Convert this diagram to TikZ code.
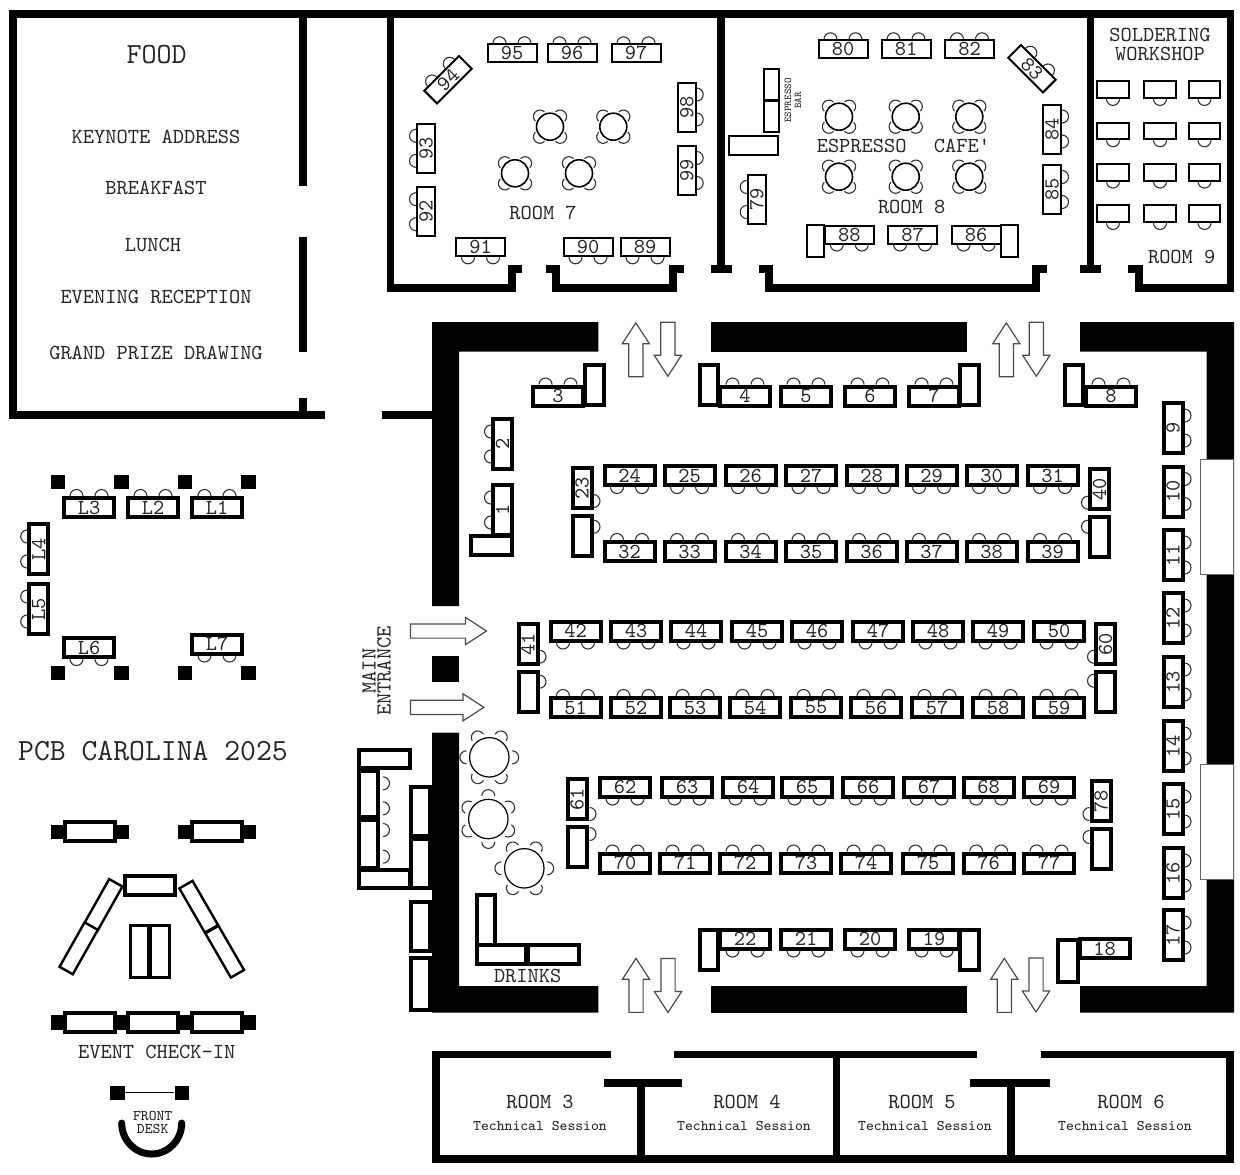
\documentclass[tikz,border=0pt]{standalone}
\usetikzlibrary{shapes.arrows}
\newcommand{\fntnorm}{\ttfamily\fontsize{10.7}{12}\selectfont}
\newcommand{\fntsmall}{\ttfamily\fontsize{7.4}{6.6}\selectfont}
\newcommand{\fnttiny}{\ttfamily\fontsize{5.2}{5}\selectfont}
\newcommand{\seat}[3][3.25pt]{\draw[chair] (#2) ++(#3-90:#1) arc[start angle=#3-90,delta angle=180,radius=#1];}
\newcommand{\seats}[2]{\foreach \d in {-6.25,6.25} {\seat{[shift={(#2+90:\d pt)}]#1}{#2}}}
\tikzset{
  wall/.style={line width=3.85pt},
  chair/.style={line width=.55pt,draw=black!80},
  lbl/.style={inner sep=0pt,text=black!85,font=\fntnorm},
  tblthick/.style={draw,line width=2pt,fill=white,inner sep=0pt,minimum width=25pt,minimum height=9.5pt,text=black!85,font=\fntnorm},
  tblthin/.style={draw,line width=1pt,fill=white,inner sep=0pt,minimum width=24.5pt,minimum height=9pt,text=black!85,font=\fntnorm},
  boxthick/.style 2 args={draw,line width=2pt,fill=white,inner sep=0pt,minimum width=#1pt,minimum height=#2pt},
  boxthin/.style 2 args={draw,line width=1pt,fill=white,inner sep=0pt,minimum width=#1pt,minimum height=#2pt},
  pillar/.style={fill=black,inner sep=0pt,minimum size=7.2pt},
  rndsmall/.style={circle,draw,line width=.8pt,inner sep=0pt,minimum size=13.5pt},
  rndbig/.style={circle,draw,line width=.6pt,inner sep=0pt,minimum size=19.7pt},
  blockarrow/.style={single arrow,draw=black!70,line width=.6pt,fill=white,inner xsep=0pt,inner ysep=3.25pt,
    single arrow head extend=3.25pt,single arrow tip angle=66,minimum height=27pt},
}
\begin{document}
\begin{tikzpicture}[x=.5pt,y=-.5pt]
  \useasboundingbox (0,0) rectangle (1240,1174);
  \fill[white] (0,0) rectangle (1240,1174);
%%
  % Walls: upper rooms
  \draw[wall] (324.7,415) -- (13.3,415) -- (13.3,14) -- (1230.5,14) -- (1230.5,288.3) -- (1138.7,288.3) -- (1138.7,265);
  \draw[wall] (1128.3,268.8) -- (1142.3,268.8);
  \draw[wall] (381.7,415) -- (432,415);
  \draw[wall] (303,14) -- (303,186);
  \draw[wall] (303,236.7) -- (303,351.7);
  \draw[wall] (303,398.3) -- (303,415);
  \draw[wall] (390.5,14) -- (390.5,288.3) -- (512,288.3) -- (512,265);
  \draw[wall] (508.3,268.8) -- (522.3,268.8);
  \draw[wall] (545.7,268.8) -- (560,268.8);
  \draw[wall] (556,265) -- (556,288.3) -- (673.3,288.3) -- (673.3,265);
  \draw[wall] (669.3,268.8) -- (684,268.8);
  \draw[wall] (721,14) -- (721,268.8);
  \draw[wall] (710.7,268.8) -- (731.7,268.8);
  \draw[wall] (759,268.8) -- (772.7,268.8);
  \draw[wall] (769,265) -- (769,288.3) -- (1036.3,288.3) -- (1036.3,265);
  \draw[wall] (1032.7,268.8) -- (1046.7,268.8);
  \draw[wall] (1090.5,14) -- (1090.5,268.8);
  \draw[wall] (1080,268.8) -- (1101,268.8);
  % Walls: lower rooms
  \draw[wall] (611.4,1054.5) -- (435.7,1054.5) -- (435.7,1159) -- (1230.3,1159) -- (1230.3,1054.5) -- (1041.3,1054.5);
  \draw[wall] (673.7,1054.5) -- (977,1054.5);
  \draw[wall] (641,1083) -- (641,1159);
  \draw[wall] (604,1083) -- (681.5,1083);
  \draw[wall] (836.5,1054.5) -- (836.5,1159);
  \draw[wall] (1011,1083) -- (1011,1159);
  \draw[wall] (969.7,1083) -- (1049.7,1083);
  % Walls: main hall
  \fill (432,606) -- (432,322) -- (598.3,322) -- (598.3,351.5) -- (459,351.5) -- (459,606) -- cycle;
  \fill (711,322) rectangle (967,351.5);
  \fill (1080,322) -- (1234,322) -- (1234,1012.7) -- (1080,1012.7) -- (1080,986) -- (1206.7,986) -- (1206.7,351.5) -- (1080,351.5) -- cycle;
  \fill (432,656) rectangle (459,682.3);
  \fill (432,732.7) -- (459,732.7) -- (459,986) -- (598.3,986) -- (598.3,1012.7) -- (432,1012.7) -- cycle;
  \fill (711,986) rectangle (967,1012.7);
  \filldraw[fill=white,draw=black!60,line width=.5pt] (1200.7,459.3) rectangle (1233.3,574.3);
  \filldraw[fill=white,draw=black!60,line width=.5pt] (1200.7,764) rectangle (1233.3,879);
  % Arrows
  \node[blockarrow,rotate=90] (aup1) at (635.8,355.3) {};
  \node[blockarrow,rotate=-90] (adn1) at (667.8,343.8) {};
  \node[blockarrow,rotate=90] (aup2) at (1006.3,355.3) {};
  \node[blockarrow,rotate=-90] (adn2) at (1036.3,343.8) {};
  \node[blockarrow,rotate=90] (aup3) at (636,990.8) {};
  \node[blockarrow,rotate=-90] (adn3) at (668,980) {};
  \node[blockarrow,rotate=90] (aup4) at (1004.3,990.8) {};
  \node[blockarrow,rotate=-90] (adn4) at (1036,979.5) {};
  \node[blockarrow,minimum height=38pt] (ain1) at (443,631) {};
  \node[blockarrow,minimum height=36.7pt] (ain2) at (441.7,707.3) {};
  % Room: FOOD
  \node[lbl,font=\ttfamily\fontsize{14.6}{16}\selectfont] (food) at (156.7,54.3) {FOOD};
  \node[lbl] (keynote) at (156,137.3) {KEYNOTE ADDRESS};
  \node[lbl] (breakfast) at (156,188) {BREAKFAST};
  \node[lbl] (lunch) at (153,245) {LUNCH};
  \node[lbl] (evening) at (156,296.5) {EVENING RECEPTION};
  \node[lbl] (grand) at (156,353) {GRAND PRIZE DRAWING};
  % Room: 7
  \foreach \n/\x in {95/512,96/572,97/636} {
    \node[tblthin] (t\n) at (\x,53.3) {\n};
    \seats{t\n.north}{90}
  }
  \foreach \n/\y in {98/107,99/170.5} {
    \node[tblthin,rotate=90] (t\n) at (686.7,\y) {\n};
    \seats{t\n.south}{0}
  }
  \foreach \n/\y in {93/148.3,92/211.7} {
    \node[tblthin,rotate=90] (t\n) at (426,\y) {\n};
    \seats{t\n.north}{180}
  }
  \foreach \n/\x in {91/480.5,90/588,89/645} {
    \node[tblthin] (t\n) at (\x,247.3) {\n};
    \seats{t\n.south}{270}
  }
  \node[tblthin,rotate=45] (t94) at (448,79.7) {94};
  \seats{t94.north}{135}
  \foreach \n/\x/\y in {a/550/126.7,b/613.3/126.7,c/515/173.3,d/579/173.3,e/839/116.7,f/905.7/116.7,g/969.3/116.7,h/839/176.7,i/905.7/176.7,j/969.3/176.7} {
    \node[rndsmall] (r\n) at (\x,\y) {};
    \foreach \a in {45,135,225,315} {\seat{r\n.\a}{\a}}
  }
  \node[lbl] (room7) at (543,213.3) {ROOM 7};
  % Room: 8
  \foreach \n/\x in {80/843,81/906,82/969.5} {
    \node[tblthin] (t\n) at (\x,49.3) {\n};
    \seats{t\n.north}{90}
  }
  \node[tblthin,rotate=-45] (t83) at (1032,68.7) {83};
  \seats{t83.north}{45}
  \foreach \n/\y in {84/129,85/189.5} {
    \node[tblthin,rotate=90] (t\n) at (1052,\y) {\n};
    \seats{t\n.south}{0}
  }
  \node[tblthin,rotate=90] (t79) at (756.7,199.5) {79};
  \seats{t79.north}{180}
  \foreach \n/\x in {88/849.3,87/912.5,86/976} {
    \node[tblthin] (t\n) at (\x,234.5) {\n};
    \seats{t\n.south}{270}
  }
  \node[boxthin={8.3}{15.8}] (s88) at (815.5,241) {};
  \node[boxthin={8.3}{15.8}] (s86) at (1009.5,241) {};
  \node[boxthin={7.4}{15.4}] (bar1) at (771.2,84.3) {};
  \node[boxthin={7.4}{15.4}] (bar2) at (771.2,116.7) {};
  \node[boxthin={24.9}{9.6}] (bar3) at (753.5,145.2) {};
  \node[lbl,font=\fnttiny,rotate=90,align=center] (barlbl) at (793,100.5) {ESPRESSO\\BAR};
  \node[lbl] (espresso) at (861.7,146) {ESPRESSO};
  \node[lbl] (cafe) at (962,146) {CAFE'};
  \node[lbl] (room8) at (911.7,207) {ROOM 8};
  % Room: 9
  \node[lbl,align=center] (solder) at (1160,44.7) {SOLDERING\\[-2.4pt]WORKSHOP};
  \foreach \x [count=\i] in {1113,1160,1204.5} {
    \foreach \y [count=\j] in {89.7,131,172.3,213.7} {
      \node[boxthin={15.75}{8.25}] (d\i\j) at (\x,\y) {};
      \seat{d\i\j.south}{270}
    }
  }
  \node[lbl] (room9) at (1181.7,257) {ROOM 9};
  % Hall: perimeter
  \node[tblthick,rotate=90] (t1) at (502.5,510) {1};
  \seats{t1.north}{180}
  \node[boxthick={20.5}{9.2}] (s1) at (491.5,545.5) {};
  \node[tblthick,rotate=90] (t2) at (502.5,444) {2};
  \seats{t2.north}{180}
  \node[tblthick] (t3) at (558,396) {3};
  \seats{t3.north}{90}
  \node[boxthick={9.2}{20.3}] (s3) at (594.5,385) {};
  \foreach \n/\x in {4/745,5/806,6/870,7/934,8/1111} {
    \node[tblthick] (t\n) at (\x,396) {\n};
    \seats{t\n.north}{90}
  }
  \node[boxthick={9.2}{20.3}] (s4) at (709,385) {};
  \node[boxthick={9.2}{20.3}] (s7) at (969.5,385) {};
  \node[boxthick={9.2}{20.3}] (s8) at (1074,385) {};
  \foreach \n/\y in {9/428,10/491.5,11/555,12/618,13/682,14/746,15/809,16/873,17/935} {
    \node[tblthick,rotate=90] (t\n) at (1173,\y) {\n};
    \seats{t\n.south}{0}
  }
  \node[tblthick] (t18) at (1104.5,948.7) {18};
  \node[boxthick={10}{21}] (s18) at (1068,960.5) {};
  \foreach \n/\x in {19/934,20/870,21/806,22/745} {
    \node[tblthick] (t\n) at (\x,939) {\n};
    \seats{t\n.south}{270}
  }
  \node[boxthick={9.2}{20.3}] (s19) at (969.5,950) {};
  \node[boxthick={9.2}{20.3}] (s22) at (709,950) {};
  % Hall: rows
  \foreach \n/\x in {24/629.5,25/689.5,26/750.5,27/811,28/871.5,29/931.5,30/991.5,31/1052.5} {
    \node[tblthick] (t\n) at (\x,475.5) {\n};
    \seats{t\n.south}{270}
  }
  \foreach \n/\x in {32/629.5,33/689.5,34/750.5,35/811,36/871.5,37/931.5,38/991.5,39/1052.5} {
    \node[tblthick] (t\n) at (\x,551.5) {\n};
    \seats{t\n.north}{90}
  }
  \foreach \n/\x in {42/575.5,43/636,44/696,45/757,46/817,47/878,48/938,49/998,50/1059} {
    \node[tblthick] (t\n) at (\x,631) {\n};
    \seats{t\n.south}{270}
  }
  \foreach \n/\x in {51/575.5,52/636,53/695,54/755,55/816,56/876,57/937,58/998,59/1059} {
    \node[tblthick] (t\n) at (\x,707.5) {\n};
    \seats{t\n.north}{90}
  }
  \foreach \n/\x in {62/625,63/687,64/748,65/807,66/868,67/929,68/988.7,69/1049} {
    \node[tblthick] (t\n) at (\x,787) {\n};
    \seats{t\n.south}{270}
  }
  \foreach \n/\x in {70/625,71/685,72/745,73/806,74/866,75/928,76/988.7,77/1049} {
    \node[tblthick] (t\n) at (\x,863) {\n};
    \seats{t\n.north}{90}
  }
  % Hall: row ends
  \foreach \n/\x/\y in {23/582/488,40/1099.5/489,41/528/644,60/1105.5/644,61/577/799,78/1101/801} {
    \node[tblthick,rotate=90,minimum width=19.7pt] (t\n) at (\x,\y) {\n};
    \node[tblthick,rotate=90,minimum width=19.7pt] (e\n) at (\x,\y+48) {};
  }
  \seat{593.5,501}{0}
  \seat{593.5,526.7}{0}
  \seat{1088,502.7}{180}
  \seat{1088,526.7}{180}
  \seat{539.5,656.7}{0}
  \seat{539.5,681.7}{0}
  \seat{1094,656.7}{180}
  \seat{1094,680.7}{180}
  \seat{589.5,814}{0}
  \seat{589.5,834}{0}
  \seat{1089.5,814}{180}
  \seat{1089.5,837}{180}
  % Lounge
  \node[boxthick={25.5}{9.2}] (lng1) at (384.8,758.8) {};
  \node[boxthick={9.35}{23}] (lng2) at (368.7,794) {};
  \node[boxthick={9.35}{24}] (lng3) at (368.7,844) {};
  \node[boxthick={25.5}{9.2}] (lng4) at (384.8,878.7) {};
  \node[boxthick={9.35}{24.6}] (lng5) at (420.3,811.7) {};
  \node[boxthick={9.35}{24.6}] (lng6) at (420.3,863.3) {};
  \node[boxthick={9.35}{24.6}] (lng7) at (420.3,926.7) {};
  \node[boxthick={9.35}{25.8}] (lng8) at (420.3,983.8) {};
  \foreach \y in {783.3,808.3,830,856.7} {\seat{383,\y}{0}}
  \node[rndbig] (b1) at (489.3,757.3) {};
  \node[rndbig] (b2) at (488.3,819) {};
  \node[rndbig] (b3) at (524.3,868.3) {};
  \foreach \a in {0,60,120,180,240,300} {
    \seat{[shift={(\a:1.3pt)}]b1.\a}{\a}
    \seat{[shift={(\a:1.3pt)}]b3.\a}{\a}
  }
  \foreach \a in {30,90,150,210,270,330} {\seat{[shift={(\a:1.3pt)}]b2.\a}{\a}}
  % Drinks
  \node[boxthick={9.15}{24.7}] (drk1) at (486.2,920) {};
  \node[boxthick={24.6}{9.35}] (drk2) at (501.7,954.7) {};
  \node[boxthick={25.3}{9.35}] (drk3) at (553.3,954.7) {};
  \node[lbl] (drinks) at (527.7,975.7) {DRINKS};
  \node[lbl,rotate=90,align=center] (entrance) at (376.5,671) {MAIN\\[-4.5pt]ENTRANCE};
  % Lobby: L tables
  \foreach \x/\n in {58/a,121.3/b,184.7/c,248.5/d} {
    \node[pillar] (pt\n) at (\x,481.7) {};
    \node[pillar] (pb\n) at (\x,672.8) {};
  }
  \foreach \n/\x in {L3/89,L2/153,L1/217} {
    \node[tblthick] (t\n) at (\x,507.5) {\n};
    \seats{t\n.north}{90}
  }
  \foreach \n/\y in {L4/549,L5/609} {
    \node[tblthick,rotate=90] (t\n) at (38.7,\y) {\n};
    \seats{t\n.north}{180}
  }
  \node[tblthick] (tL6) at (89,647.5) {L6};
  \seats{tL6.south}{270}
  \node[tblthick] (tL7) at (217,644) {L7};
  \seats{tL7.south}{270}
  \node[lbl,font=\ttfamily\fontsize{15.4}{18}\selectfont] (title) at (153,751) {PCB CAROLINA 2025};
  % Lobby: check-in
  \foreach \x/\n in {58/a,121.3/b,184.7/c,248.5/d} {
    \node[pillar] (pc\n) at (\x,831.7) {};
    \node[pillar] (pd\n) at (\x,1022.5) {};
  }
  \node[tblthick] (c1) at (89.5,831.7) {};
  \node[tblthick] (c2) at (216.7,831.7) {};
  \node[tblthick] (c3) at (150,885) {};
  \foreach \n/\x/\y/\r in {c4/103.3/905/60.6,c5/78.7/948.3/60.6,c6/198.7/906.7/-60,c7/224.7/951.7/-60} {
    \node[boxthin={25.5}{7.6},rotate=\r,line width=1.2pt] (\n) at (\x,\y) {};
  }
  \node[boxthick={9.3}{26},line width=1.5pt] (c8) at (139.5,951.7) {};
  \node[boxthick={9.3}{26},line width=1.5pt] (c9) at (160,951.7) {};
  \node[tblthick] (c10) at (89.5,1022) {};
  \node[tblthick] (c11) at (153,1022) {};
  \node[tblthick] (c12) at (216.7,1022) {};
  \node[lbl] (checkin) at (156.7,1051.7) {EVENT CHECK-IN};
  % Lobby: front desk
  \node[pillar] (fd1) at (117.5,1092.7) {};
  \node[pillar] (fd2) at (182,1092.7) {};
  \draw[line width=.6pt] (fd1) -- (fd2);
  \node[lbl,font=\fntsmall,align=center] (fdesk) at (152.7,1122.5) {FRONT\\DESK};
  \draw[line width=3.5pt,line cap=round] (121.7,1123) arc[start angle=180,end angle=360,x radius=15pt,y radius=15.5pt];
  % Room: 3 to 6
  \foreach \n/\x/\u in {3/540/540,4/747/744,5/922/925,6/1131/1125} {
    \node[lbl] (rm\n) at (\x,1102) {ROOM \n};
    \node[lbl,font=\fntsmall] (ts\n) at (\u,1126) {Technical Session};
  }
%
\end{tikzpicture}
\end{document}
